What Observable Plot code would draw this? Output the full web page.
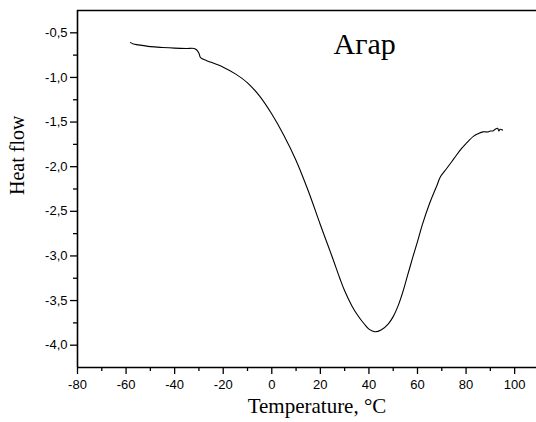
<!DOCTYPE html>
<html>
<head>
<meta charset="utf-8">
<script src="https://cdn.jsdelivr.net/npm/d3@7"></script>
<script src="https://cdn.jsdelivr.net/npm/@observablehq/plot@0.6"></script>
<style>
  html, body { margin: 0; padding: 0; background: #fff; }
  #chart { width: 536px; height: 422px; }
</style>
</head>
<body>
<div id="chart"></div>
<script>
// Temperature (°C) readings along the DSC curve
const temperature = [-58.2, -57, -55, -50, -45, -40, -35, -32, -31, -30, -29.5, -29, -27, -25, -20, -15, -10, -5, 0, 5, 10, 15, 20, 25, 28, 30, 33, 35, 38, 40, 42.5, 45, 48, 50, 52, 54, 56, 58, 60, 62, 65, 68, 69.5, 72, 75, 78, 80, 83, 85, 87, 89, 90, 91, 92, 93, 93.5, 94, 95];
// Heat flow values
const heatFlow = [-0.61, -0.625, -0.635, -0.655, -0.665, -0.672, -0.675, -0.675, -0.69, -0.73, -0.77, -0.785, -0.81, -0.83, -0.885, -0.96, -1.06, -1.21, -1.41, -1.65, -1.93, -2.27, -2.65, -3.02, -3.25, -3.39, -3.56, -3.65, -3.76, -3.82, -3.85, -3.83, -3.76, -3.68, -3.56, -3.40, -3.21, -3.02, -2.84, -2.65, -2.41, -2.21, -2.11, -2.02, -1.91, -1.80, -1.74, -1.66, -1.63, -1.61, -1.61, -1.60, -1.60, -1.58, -1.57, -1.60, -1.58, -1.59];

const xMajor = [-80, -60, -40, -20, 0, 20, 40, 60, 80, 100];
const xMinor = [-70, -50, -30, -10, 10, 30, 50, 70, 90];
const yMajor = [-4.0, -3.5, -3.0, -2.5, -2.0, -1.5, -1.0, -0.5];
const yMinor = [-3.75, -3.25, -2.75, -2.25, -1.75, -1.25, -0.75];
const xDomain = [-80, 109];
const yDomain = [-4.25, -0.25];

const title = "Агар";
const xLabel = "Temperature, °C";
const yLabel = "Heat flow";

const data = temperature.map((t, i) => ({t, h: heatFlow[i]}));
const fmt = d => d.toFixed(1).replace(".", ",");
const serif = "'Liberation Serif', 'Times New Roman', serif";

const chart = Plot.plot({
  width: 536,
  height: 422,
  marginLeft: 77,
  marginRight: 0,
  marginTop: 10,
  marginBottom: 55,
  style: {fontFamily: "'Liberation Sans', Arial, sans-serif", fontSize: "13px", color: "#000", background: "#fff"},
  x: {domain: xDomain, axis: null},
  y: {domain: yDomain, axis: null},
  marks: [
    Plot.axisX(xMinor, {tickSize: 4, text: null, label: null, strokeWidth: 1.3}),
    Plot.axisX(xMajor, {tickSize: 7, tickPadding: 5, label: null, strokeWidth: 1.3, tickFormat: d => String(d), fontSize: 13}),
    Plot.axisY(yMinor, {tickSize: 4, text: null, label: null, strokeWidth: 1.3}),
    Plot.axisY(yMajor, {tickSize: 7, tickPadding: 3, label: null, strokeWidth: 1.3, tickFormat: fmt, fontSize: 13}),
    Plot.ruleY([yDomain[0]], {strokeWidth: 1.6}),
    Plot.ruleY([yDomain[1]], {strokeWidth: 1.6}),
    Plot.ruleX([xDomain[0]], {strokeWidth: 1.6}),
    Plot.line(data, {x: "t", y: "h", stroke: "#000", strokeWidth: 1.1, curve: "catmull-rom"}),
    Plot.text([title], {frameAnchor: "top-left", dx: 256, dy: 22, text: d => d, fontSize: 30, fontFamily: serif, textAnchor: "start"}),
    Plot.text([xLabel], {frameAnchor: "bottom", dx: 10, dy: 45, text: d => d, fontSize: 21, fontFamily: serif}),
    Plot.text([yLabel], {frameAnchor: "left", dx: -60, dy: 6, rotate: -90, text: d => d, fontSize: 20, fontFamily: serif})
  ]
});
document.getElementById("chart").appendChild(chart);
</script>
</body>
</html>
